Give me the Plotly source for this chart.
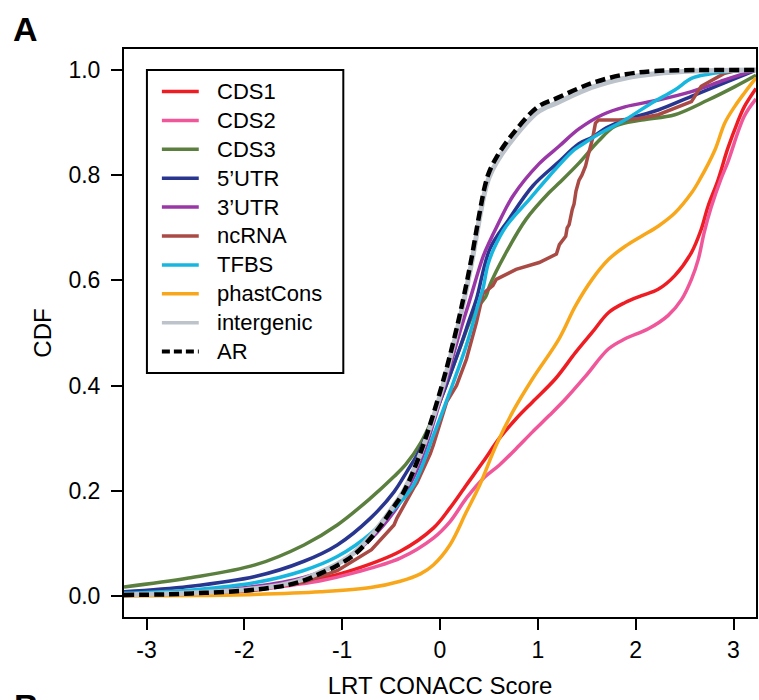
import plotly.graph_objects as go

# ---- CDF curves of LRT CONACC score by annotation class ----
cds1_x = [-3.23, -2.5, -2.0, -1.5, -1.22, -0.88, -0.406, -0.068, 0.101, 0.27, 0.44, 0.608, 0.778, 0.946, 1.18,
          1.386, 1.555, 1.724, 1.893, 2.06, 2.23, 2.4, 2.57, 2.67, 2.74, 2.84, 2.94, 3.04, 3.11, 3.23]
cds1_y = [0.001, 0.004, 0.010, 0.024, 0.033, 0.050, 0.085, 0.129, 0.167, 0.211, 0.255, 0.300, 0.337, 0.369, 0.413,
          0.463, 0.501, 0.539, 0.558, 0.571, 0.583, 0.609, 0.653, 0.697, 0.741, 0.790, 0.850, 0.900, 0.930, 0.965]

cds2_x = [-3.23, -2.5, -2.0, -1.5, -1.22, -0.88, -0.406, -0.068, 0.101, 0.27, 0.44, 0.608, 0.778, 0.946, 1.116,
          1.285, 1.488, 1.724, 1.893, 2.13, 2.33, 2.47, 2.57, 2.64, 2.70, 2.77, 2.87, 2.94, 3.11, 3.23]
cds2_y = [0.001, 0.004, 0.009, 0.021, 0.029, 0.044, 0.072, 0.110, 0.141, 0.186, 0.223, 0.249, 0.280, 0.312, 0.343,
          0.375, 0.418, 0.470, 0.489, 0.508, 0.533, 0.564, 0.602, 0.640, 0.691, 0.738, 0.792, 0.824, 0.912, 0.945]

cds3_x = [-3.23, -2.57, -1.89, -1.39, -1.05, -0.71, -0.47, -0.35, -0.2, 0.0, 0.2, 0.35, 0.47, 0.507, 0.676,
          0.879, 1.116, 1.217, 1.42, 1.62, 1.79, 2.06, 2.4, 2.74, 3.01, 3.23]
cds3_y = [0.017, 0.034, 0.059, 0.097, 0.135, 0.186, 0.227, 0.250, 0.290, 0.370, 0.470, 0.540, 0.570, 0.590, 0.653,
          0.716, 0.767, 0.785, 0.823, 0.865, 0.893, 0.905, 0.915, 0.943, 0.968, 0.990]

utr5_x = [-3.23, -2.57, -1.89, -1.39, -1.05, -0.71, -0.47, -0.34, -0.2, 0.0, 0.2, 0.3, 0.372, 0.51, 0.7,
          0.95, 1.2, 1.42, 1.555, 1.7, 1.89, 2.23, 2.57, 2.9, 3.23]
utr5_y = [0.008, 0.018, 0.037, 0.066, 0.097, 0.148, 0.198, 0.236, 0.280, 0.370, 0.470, 0.525, 0.564, 0.660, 0.715,
          0.780, 0.823, 0.860, 0.872, 0.890, 0.905, 0.924, 0.950, 0.975, 1.000]

utr3_x = [-3.23, -2.5, -1.9, -1.4, -1.05, -0.7, -0.47, -0.34, -0.2, 0.0, 0.2, 0.3, 0.44, 0.51, 0.575,
          0.744, 1.014, 1.217, 1.42, 1.66, 1.89, 2.23, 2.57, 2.91, 3.23]
utr3_y = [0.003, 0.008, 0.018, 0.035, 0.060, 0.110, 0.160, 0.200, 0.255, 0.370, 0.500, 0.560, 0.645, 0.675, 0.700,
          0.760, 0.822, 0.855, 0.888, 0.915, 0.930, 0.943, 0.959, 0.981, 1.000]

ncrna_x = [-3.23, -2.5, -1.9, -1.4, -1.05, -0.7, -0.47, -0.44, -0.27, -0.236, -0.1, -0.068, 0.068, 0.169, 0.27,
           0.372, 0.44, 0.473, 0.54, 0.575, 0.778, 1.014, 1.15, 1.19, 1.22, 1.285, 1.30, 1.32, 1.352, 1.37,
           1.39, 1.42, 1.45, 1.487, 1.51, 1.538, 1.56, 1.589, 1.62, 1.83, 2.03, 2.23, 2.43, 2.57, 2.67, 2.81,
           2.91, 3.05, 3.23]
ncrna_y = [0.002, 0.005, 0.011, 0.026, 0.048, 0.088, 0.135, 0.148, 0.205, 0.215, 0.270, 0.287, 0.369, 0.400, 0.450,
           0.520, 0.575, 0.580, 0.590, 0.602, 0.621, 0.634, 0.646, 0.650, 0.668, 0.684, 0.700, 0.706, 0.735, 0.745,
           0.770, 0.790, 0.800, 0.817, 0.835, 0.855, 0.870, 0.899, 0.905, 0.905, 0.908, 0.915, 0.930, 0.940, 0.969, 0.984,
           0.994, 1.000, 1.000]

tfbs_x = [-3.23, -2.5, -1.9, -1.4, -1.05, -0.7, -0.47, -0.27, -0.068, 0.101, 0.27, 0.406, 0.44, 0.49, 0.55,
          0.676, 0.913, 1.116, 1.35, 1.45, 1.62, 1.89, 2.16, 2.4, 2.57, 2.74, 3.0, 3.23]
tfbs_y = [0.005, 0.012, 0.025, 0.048, 0.075, 0.120, 0.165, 0.211, 0.305, 0.388, 0.477, 0.564, 0.585, 0.630, 0.660,
          0.703, 0.754, 0.798, 0.845, 0.858, 0.878, 0.905, 0.937, 0.962, 0.984, 0.992, 0.998, 1.000]

phast_x = [-3.23, -2.5, -1.9, -1.22, -0.71, -0.406, -0.2, -0.068, 0.101, 0.27, 0.406, 0.575, 0.743, 0.946, 1.217,
           1.386, 1.555, 1.724, 1.893, 2.06, 2.23, 2.4, 2.57, 2.65, 2.81, 2.91, 3.01, 3.11, 3.23]
phast_y = [0.000, 0.001, 0.003, 0.008, 0.016, 0.028, 0.042, 0.059, 0.097, 0.160, 0.211, 0.287, 0.350, 0.413, 0.489,
           0.552, 0.602, 0.640, 0.665, 0.684, 0.703, 0.728, 0.766, 0.790, 0.848, 0.899, 0.930, 0.956, 0.985]

inter_x = [-3.23, -2.8, -2.4, -2.0, -1.75, -1.55, -1.38, -1.22, -1.05, -0.88, -0.68, -0.47, -0.37, -0.2, 0.0,
           0.135, 0.237, 0.32, 0.406, 0.46, 0.5, 0.58, 0.75, 1.0, 1.2, 1.55, 1.9, 2.2, 2.6, 3.23]
inter_y = [0.002, 0.004, 0.007, 0.012, 0.017, 0.024, 0.033, 0.046, 0.061, 0.082, 0.120, 0.172, 0.200, 0.270, 0.380,
           0.475, 0.555, 0.630, 0.720, 0.770, 0.795, 0.825, 0.870, 0.920, 0.938, 0.967, 0.985, 0.993, 0.998, 1.000]

ar_x = [-3.23, -2.8, -2.4, -2.0, -1.75, -1.55, -1.38, -1.22, -1.05, -0.88, -0.68, -0.47, -0.37, -0.2, 0.0,
        0.135, 0.237, 0.32, 0.406, 0.46, 0.5, 0.58, 0.75, 1.0, 1.2, 1.55, 1.9, 2.2, 2.6, 3.23]
ar_y = [0.002, 0.003, 0.006, 0.010, 0.015, 0.021, 0.030, 0.043, 0.058, 0.078, 0.116, 0.170, 0.198, 0.272, 0.388,
        0.482, 0.564, 0.640, 0.730, 0.780, 0.805, 0.835, 0.880, 0.930, 0.947, 0.975, 0.992, 0.998, 1.000, 1.000]

series_names = ["CDS1", "CDS2", "CDS3", "5\u2019UTR", "3\u2019UTR", "ncRNA", "TFBS", "phastCons", "intergenic", "AR"]
series_colors = ["#ee1d23", "#f0579b", "#5b7f3e", "#28368f", "#9a37a6", "#a94a44", "#17b6df", "#f8a71b",
                 "#bcc3ca", "#000000"]

x_tick_vals = [-3, -2, -1, 0, 1, 2, 3]
x_tick_text = ["-3", "-2", "-1", "0", "1", "2", "3"]
y_tick_vals = [0.0, 0.2, 0.4, 0.6, 0.8, 1.0]
y_tick_text = ["0.0", "0.2", "0.4", "0.6", "0.8", "1.0"]

curves = [(cds1_x, cds1_y), (cds2_x, cds2_y), (cds3_x, cds3_y), (utr5_x, utr5_y), (utr3_x, utr3_y),
          (ncrna_x, ncrna_y), (tfbs_x, tfbs_y), (phast_x, phast_y), (inter_x, inter_y), (ar_x, ar_y)]

FONT = "Liberation Sans, Arial, Helvetica, sans-serif"
W, H = 759, 700
ML, MR, MT, MB = 124, 1, 49, 83
PW, PH = W - ML - MR, H - MT - MB


def line_style(name, color):
    if name == "AR":
        return dict(color=color, width=4.5, dash="10px,5px")
    if name == "intergenic":
        return dict(color=color, width=5)
    return dict(color=color, width=3.5)


fig = go.Figure()
for (xs, ys), name, color in zip(curves, series_names, series_colors):
    fig.add_trace(go.Scatter(x=xs, y=ys, mode="lines", name=name, line=line_style(name, color),
                             line_shape="linear" if name == "ncRNA" else "spline",
                             hoverinfo="skip", showlegend=False))


# legend box drawn in pixel-derived paper coordinates (top-left of plot panel)
def px_to_paper(px, py):
    return (px - ML) / PW, (H - MB - py) / PH


box_x0, box_y0 = px_to_paper(147, 70)
box_x1, box_y1 = px_to_paper(344, 373)
fig.add_shape(type="rect", xref="paper", yref="paper", x0=box_x0, y0=box_y1, x1=box_x1, y1=box_y0,
              line=dict(color="black", width=2), fillcolor="white", layer="above")
row_gap = 28.9
for i, (name, color) in enumerate(zip(series_names, series_colors)):
    cy = 91.5 + i * row_gap
    lx0, ly = px_to_paper(162, cy)
    lx1, _ = px_to_paper(199, cy)
    style = line_style(name, color)
    seg = dict(color=color, width=3.5 if name != "AR" else 4)
    if name == "AR":
        seg["dash"] = "8px,4px"
    fig.add_shape(type="line", xref="paper", yref="paper", x0=lx0, y0=ly, x1=lx1, y1=ly,
                  line=seg, layer="above")
    tx, ty = px_to_paper(215, cy)
    fig.add_annotation(text=name, xref="paper", yref="paper", x=tx, y=ty,
                       xanchor="left", yanchor="middle", showarrow=False,
                       font=dict(family=FONT, size=22, color="black"))

axis_common = dict(showline=True, mirror=True, linecolor="black", linewidth=2,
                   ticks="outside", ticklen=11, tickwidth=2, tickcolor="black",
                   showgrid=False, zeroline=False,
                   tickfont=dict(family=FONT, size=23, color="black"))

fig.update_layout(
    width=W, height=H,
    margin=dict(l=ML, r=MR, t=MT, b=MB),
    paper_bgcolor="white", plot_bgcolor="white",
    font=dict(family=FONT, size=22, color="black"),
    xaxis=dict(range=[-3.23, 3.23], tickvals=x_tick_vals, ticktext=x_tick_text,
               title=dict(text="LRT CONACC Score", font=dict(family=FONT, size=24), standoff=16),
               ticklabelstandoff=0, **axis_common),
    yaxis=dict(range=[-0.04, 1.04], tickvals=y_tick_vals, ticktext=y_tick_text,
               title=dict(text="CDF", font=dict(family=FONT, size=24), standoff=10),
               ticklabelstandoff=6, **axis_common),
    showlegend=False,
)

fig.add_annotation(text="<b>A</b>", xref="paper", yref="paper", x=-0.179, y=1.035,
                   xanchor="left", yanchor="middle", showarrow=False,
                   font=dict(family=FONT, size=34, color="black"))
fig.add_annotation(text="<b>B</b>", xref="paper", yref="paper", x=-0.177, y=-0.156,
                   xanchor="left", yanchor="middle", showarrow=False,
                   font=dict(family=FONT, size=34, color="black"))

fig.write_html("out.html")
